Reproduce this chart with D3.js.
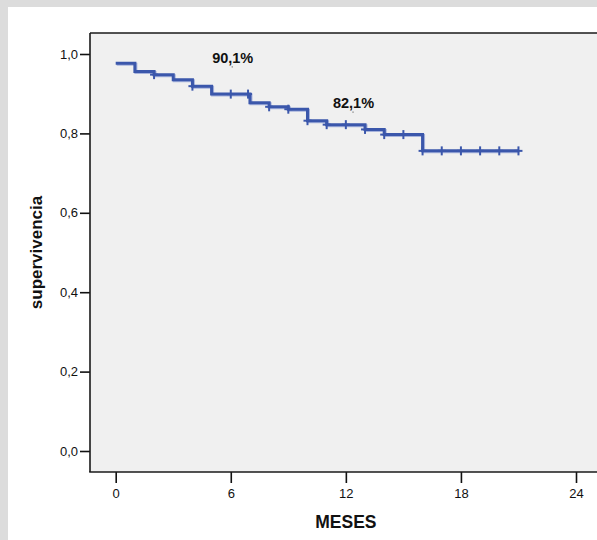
<!DOCTYPE html>
<html>
<head>
<meta charset="utf-8">
<script src="https://cdn.jsdelivr.net/npm/d3@7"></script>
<style>
  html, body { margin: 0; padding: 0; background: #ffffff; }
  svg { display: block; }
  text { font-family: Arial, "Liberation Sans", sans-serif; }
</style>
</head>
<body>
<svg id="chart" width="597" height="540"></svg>
<script>
// ---- data ----
const stepTimes    = [0, 1, 2, 3, 4, 5, 7, 8, 9, 10, 11, 13, 14, 16, 21];
const stepSurvival = [0.977, 0.956, 0.948, 0.935, 0.919, 0.899, 0.877, 0.867, 0.861, 0.832, 0.822, 0.810, 0.797, 0.756, 0.756];
const censorTimes  = [2, 4, 6, 6.9, 8, 9, 10, 11, 12, 13, 14, 15, 16, 17, 18, 19, 20, 21];
const xTicks = [0, 6, 12, 18, 24];
const yTicks = [0, 0.2, 0.4, 0.6, 0.8, 1.0];
const annotTexts = ["90,1%", "82,1%"];
const annotTimes = [6.1, 12.4];
const annotValues = [0.977, 0.863];
const xTitle = "MESES";
const yTitle = "supervivencia";

// ---- layout ----
const svg = d3.select("#chart");
const W = 597, H = 540;
const frame = { left: 90, top: 33, bottom: 472, right: 600 };

svg.append("rect").attr("x", 0).attr("y", 0).attr("width", W).attr("height", H).attr("fill", "#dcdcdc");
svg.append("rect").attr("x", 8).attr("y", 7).attr("width", W).attr("height", H).attr("fill", "#ffffff");

const x = d3.scaleLinear().domain([0, 24]).range([115.7, 576]);
const y = d3.scaleLinear().domain([0, 1]).range([451, 54]);

// plot area
svg.append("rect")
  .attr("x", frame.left).attr("y", frame.top)
  .attr("width", frame.right - frame.left).attr("height", frame.bottom - frame.top)
  .attr("fill", "#f0f0f0");

const fmt = d => d3.format(".1f")(d).replace(".", ",");

// y axis
const yAxis = svg.append("g")
  .attr("transform", `translate(${frame.left},0)`)
  .call(d3.axisLeft(y).tickValues(yTicks).tickFormat(fmt).tickSize(10).tickPadding(2));
yAxis.select(".domain").remove();
yAxis.selectAll(".tick line").attr("stroke", "#111").attr("stroke-width", 1.6);
yAxis.selectAll(".tick text").attr("font-size", 13).attr("fill", "#111")
  .attr("font-family", "Arial, 'Liberation Sans', sans-serif");

// x axis
const xAxis = svg.append("g")
  .attr("transform", `translate(0,${frame.bottom})`)
  .call(d3.axisBottom(x).tickValues(xTicks).tickFormat(d3.format("d")).tickSize(11).tickPadding(6));
xAxis.select(".domain").remove();
xAxis.selectAll(".tick line").attr("stroke", "#111").attr("stroke-width", 1.6);
xAxis.selectAll(".tick text").attr("font-size", 13).attr("fill", "#111")
  .attr("font-family", "Arial, 'Liberation Sans', sans-serif");

// frame lines
const frameColor = "#1a1a1a";
svg.append("line").attr("x1", frame.left).attr("x2", frame.left)
  .attr("y1", frame.top).attr("y2", frame.bottom)
  .attr("stroke", frameColor).attr("stroke-width", 1.6);
svg.append("line").attr("x1", frame.left).attr("x2", frame.right)
  .attr("y1", frame.top).attr("y2", frame.top)
  .attr("stroke", frameColor).attr("stroke-width", 1.6);
svg.append("line").attr("x1", frame.left - 0.8).attr("x2", frame.right)
  .attr("y1", frame.bottom).attr("y2", frame.bottom)
  .attr("stroke", frameColor).attr("stroke-width", 1.6);

// survival step curve
const steps = stepTimes.map((t, i) => [t, stepSurvival[i]]);
const line = d3.line().x(d => x(d[0])).y(d => y(d[1])).curve(d3.curveStepAfter);

svg.append("path").datum(steps)
  .attr("d", line)
  .attr("transform", "translate(1,1)")
  .attr("fill", "none").attr("stroke", "#a7b3dc").attr("stroke-width", 3);
svg.append("path").datum(steps)
  .attr("d", line)
  .attr("fill", "none").attr("stroke", "#3b57ab").attr("stroke-width", 3);

// censor marks
function survivalAt(t) {
  let s = stepSurvival[0];
  for (let i = 0; i < stepTimes.length; i++) if (stepTimes[i] <= t) s = stepSurvival[i];
  return s;
}
const cg = svg.append("g").attr("stroke", "#3b57ab").attr("stroke-width", 2);
censorTimes.forEach(t => {
  const cx = x(t), cy = y(survivalAt(t));
  cg.append("line").attr("x1", cx).attr("x2", cx).attr("y1", cy - 4.5).attr("y2", cy + 4.5);
  cg.append("line").attr("x1", cx - 4).attr("x2", cx + 4).attr("y1", cy).attr("y2", cy);
});

// annotations
annotTexts.forEach((txt, i) => {
  const ax = x(annotTimes[i]), ay = y(annotValues[i]);
  svg.append("text").attr("x", ax).attr("y", ay)
    .attr("text-anchor", "middle").attr("font-size", 14.5).attr("font-weight", "bold")
    .attr("fill", "#111").text(txt);
  svg.append("rect").attr("x", ax - 1).attr("y", ay + 3).attr("width", 1).attr("height", 1.5)
    .attr("fill", "#777");
});

// axis titles
svg.append("text").attr("x", x(12)).attr("y", 528)
  .attr("text-anchor", "middle").attr("font-size", 17.5).attr("font-weight", "bold")
  .attr("fill", "#111").text(xTitle);
svg.append("text")
  .attr("transform", `translate(42,${(frame.top + frame.bottom) / 2}) rotate(-90)`)
  .attr("text-anchor", "middle").attr("font-size", 17).attr("font-weight", "bold")
  .attr("fill", "#111").text(yTitle);
</script>
</body>
</html>
